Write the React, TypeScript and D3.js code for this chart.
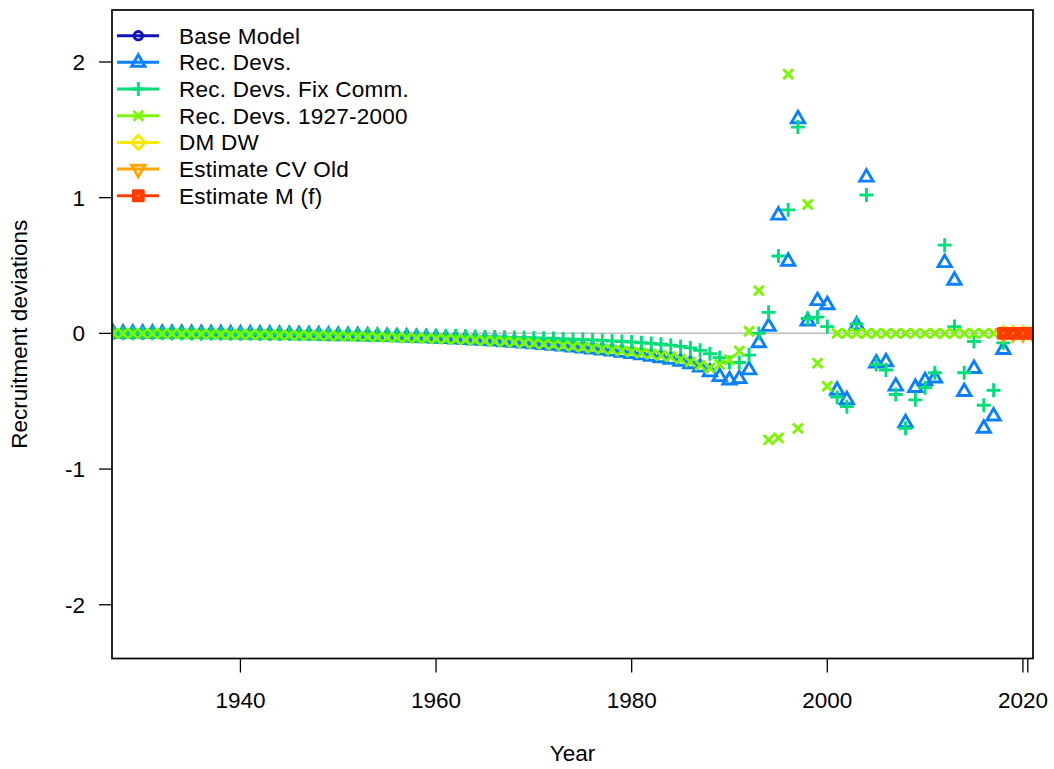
import React from "react";
import * as d3 from "d3";

// ---- data -------------------------------------------------------------
const seriesNames = [
  "Base Model",
  "Rec. Devs.",
  "Rec. Devs. Fix Comm.",
  "Rec. Devs. 1927-2000",
  "DM DW",
  "Estimate CV Old",
  "Estimate M (f)",
];
const seriesColors = ["#1212BC", "#0A80FF", "#00DE7A", "#7CF700", "#FFE600", "#FFA500", "#FF3D00"];
const seriesShapes = ["circle", "triangle", "plus", "cross", "diamond", "triangleDown", "square"];

// Main recruitment deviation years
const yearsRecDevs = d3.range(1927, 2019); // 1927..2018
const yearsRecDevs1927 = d3.range(1927, 2018); // 1927..2017
const yearsForecast = [2018, 2019, 2020, 2021];

const recDevs = [
  0.0, 0.0, 0.0, 0.0, 0.0, -0.001, -0.002, -0.002, -0.003, -0.003,
  -0.004, -0.004, -0.005, -0.006, -0.006, -0.007, -0.008, -0.009, -0.01, -0.011,
  -0.012, -0.013, -0.015, -0.016, -0.018, -0.019, -0.021, -0.023, -0.025, -0.027,
  -0.029, -0.032, -0.034, -0.037, -0.04, -0.043, -0.047, -0.05, -0.054, -0.058,
  -0.063, -0.067, -0.072, -0.078, -0.083, -0.089, -0.095, -0.102, -0.109, -0.116,
  -0.124, -0.132, -0.141, -0.15, -0.16, -0.17, -0.181, -0.193, -0.207, -0.225,
  -0.25, -0.285, -0.32, -0.345, -0.335, -0.27, -0.07, 0.05, 0.87, 0.53,
  1.58, 0.09, 0.24, 0.21, -0.42, -0.49, 0.06, 1.15, -0.22, -0.21,
  -0.39, -0.66, -0.4, -0.35, -0.33, 0.52, 0.39, -0.43, -0.26, -0.7,
  -0.61, -0.12,
];

const recDevsFixComm = [
  0.0, 0.0, 0.0, 0.0, 0.0, 0.0, -0.001, -0.001, -0.001, -0.002,
  -0.002, -0.002, -0.003, -0.003, -0.003, -0.004, -0.004, -0.005, -0.005, -0.006,
  -0.006, -0.007, -0.008, -0.008, -0.009, -0.01, -0.011, -0.012, -0.013, -0.014,
  -0.015, -0.016, -0.017, -0.018, -0.019, -0.02, -0.022, -0.023, -0.025, -0.026,
  -0.028, -0.03, -0.032, -0.034, -0.036, -0.038, -0.041, -0.043, -0.046, -0.049,
  -0.052, -0.056, -0.06, -0.064, -0.069, -0.074, -0.08, -0.087, -0.096, -0.107,
  -0.125, -0.15, -0.18, -0.215, -0.215, -0.16, 0.0, 0.155, 0.57, 0.91,
  1.52, 0.11, 0.12, 0.05, -0.47, -0.54, 0.07, 1.02, -0.23, -0.27,
  -0.45, -0.7, -0.49, -0.4, -0.29, 0.65, 0.05, -0.29, -0.06, -0.53,
  -0.42, -0.07,
];

const recDevs1927to2000 = [
  0.0, -0.001, -0.001, -0.002, -0.002, -0.003, -0.003, -0.004, -0.005, -0.005,
  -0.006, -0.007, -0.008, -0.008, -0.009, -0.01, -0.011, -0.012, -0.013, -0.014,
  -0.015, -0.016, -0.018, -0.019, -0.021, -0.022, -0.024, -0.026, -0.028, -0.03,
  -0.032, -0.034, -0.037, -0.039, -0.042, -0.045, -0.048, -0.051, -0.055, -0.058,
  -0.062, -0.066, -0.07, -0.075, -0.08, -0.085, -0.09, -0.096, -0.102, -0.108,
  -0.115, -0.122, -0.129, -0.137, -0.145, -0.154, -0.163, -0.173, -0.19, -0.21,
  -0.235, -0.255, -0.23, -0.195, -0.13, 0.015, 0.315, -0.785, -0.77, 1.91,
  -0.7, 0.95, -0.22, -0.39, 0, 0, 0, 0, 0, 0,
  0, 0, 0, 0, 0, 0, 0, 0, 0, 0,
  0,
];

const forecastBase = [0, 0, 0, 0];
const forecastDMDW = [0, 0, 0, 0];
const forecastCVOld = [0, 0, 0, 0];
const forecastM = [0, 0, 0, 0];

const seriesYears = [yearsForecast, yearsRecDevs, yearsRecDevs, yearsRecDevs1927, yearsForecast, yearsForecast, yearsForecast];
const seriesValues = [forecastBase, recDevs, recDevsFixComm, recDevs1927to2000, forecastDMDW, forecastCVOld, forecastM];

const xTicks = [1940, 1960, 1980, 2000, 2020];
const xMinorEnd = [2020.5];
const yTicks = [-2, -1, 0, 1, 2];

// ---- layout -----------------------------------------------------------
const W = 1054;
const H = 769;
const plotL = 112;
const plotR = 1033;
const plotT = 10;
const plotB = 658.5;
const FONT = "'Liberation Sans', Arial, Helvetica, sans-serif";
const FS = 22.5;

const x = d3.scaleLinear().domain([1926.87, 2021.03]).range([plotL, plotR]);
const y = d3.scaleLinear().domain([-2.396, 2.383]).range([plotB, plotT]);

const SW = 2.9;
const R0 = 4.94;

function Glyph({ shape, cx, cy, color }: { shape: string; cx: number; cy: number; color: string }) {
  const common = { fill: "none", stroke: color, strokeWidth: SW, strokeLinejoin: "miter" as const };
  switch (shape) {
    case "circle":
      return <circle cx={cx} cy={cy} r={4.2} {...common} />;
    case "triangle":
    case "triangleDown": {
      const r = 1.5551 * R0;
      const xc = 1.3468 * R0;
      const yc = 0.7776 * R0;
      const s = shape === "triangle" ? 1 : -1;
      const d = `M${cx},${cy - s * r}L${cx + xc},${cy + s * yc}L${cx - xc},${cy + s * yc}Z`;
      return <path d={d} {...common} />;
    }
    case "plus": {
      const a = 1.4142 * R0;
      return <path d={`M${cx - a},${cy}H${cx + a}M${cx},${cy - a}V${cy + a}`} {...common} />;
    }
    case "cross": {
      const a = R0;
      return (
        <path d={`M${cx - a},${cy - a}L${cx + a},${cy + a}M${cx - a},${cy + a}L${cx + a},${cy - a}`} {...common} />
      );
    }
    case "diamond": {
      const a = 1.4142 * R0;
      return <path d={`M${cx},${cy - a}L${cx + a},${cy}L${cx},${cy + a}L${cx - a},${cy}Z`} {...common} />;
    }
    case "square": {
      const a = R0;
      return (
        <g>
          <rect x={cx - a} y={cy - a} width={2 * a} height={2 * a} fill={color} stroke={color} strokeWidth={3} strokeLinejoin="round" />
          <circle cx={cx} cy={cy} r={1.1} fill="#FF9A30" />
        </g>
      );
    }
    default:
      return null;
  }
}

export default function App() {
  const legendRow0 = 35.7;
  const legendStep = 26.67;
  return (
    <svg
      width={W}
      height={H}
      viewBox={`0 0 ${W} ${H}`}
      style={{ position: "absolute", left: 0, top: 0, background: "#fff" }}
      fontFamily={FONT}
    >
      <defs>
        <clipPath id="plotClip">
          <rect x={plotL} y={plotT} width={plotR - plotL} height={plotB - plotT} />
        </clipPath>
      </defs>
      <rect x={0} y={0} width={W} height={H} fill="#fff" />

      {/* zero reference line */}
      <line x1={plotL} x2={plotR} y1={y(0)} y2={y(0)} stroke="#BEBEBE" strokeWidth={1.5} />

      {/* points */}
      <g clipPath="url(#plotClip)">
        {seriesValues.map((vals, si) => (
          <g key={si}>
            {vals.map((v, i) => (
              <Glyph key={i} shape={seriesShapes[si]} cx={x(seriesYears[si][i])} cy={y(v)} color={seriesColors[si]} />
            ))}
          </g>
        ))}
      </g>

      {/* frame */}
      <rect x={plotL} y={plotT} width={plotR - plotL} height={plotB - plotT} fill="none" stroke="#000" strokeWidth={1.7} />

      {/* x axis */}
      {xTicks.map((t) => (
        <g key={t}>
          <line x1={x(t)} x2={x(t)} y1={plotB} y2={plotB + 14} stroke="#000" strokeWidth={1.3} />
          <text x={x(t)} y={707.5} fontSize={FS} textAnchor="middle" fill="#000">
            {t}
          </text>
        </g>
      ))}
      {xMinorEnd.map((t) => (
        <line key={t} x1={x(t)} x2={x(t)} y1={plotB} y2={plotB + 14} stroke="#000" strokeWidth={1.3} />
      ))}
      <text x={(plotL + plotR) / 2} y={761} fontSize={FS} textAnchor="middle" fill="#000">
        Year
      </text>

      {/* y axis */}
      {yTicks.map((t) => (
        <g key={t}>
          <line x1={plotL - 13} x2={plotL} y1={y(t)} y2={y(t)} stroke="#000" strokeWidth={1.3} />
          <text x={85} y={y(t) + 8} fontSize={FS} textAnchor="end" fill="#000">
            {t}
          </text>
        </g>
      ))}
      <text
        transform={`translate(27, ${(plotT + plotB) / 2}) rotate(-90)`}
        fontSize={FS}
        textAnchor="middle"
        fill="#000"
      >
        Recruitment deviations
      </text>

      {/* legend */}
      {seriesNames.map((name, i) => {
        const ly = legendRow0 + i * legendStep;
        return (
          <g key={name}>
            <line x1={117} x2={159} y1={ly} y2={ly} stroke={seriesColors[i]} strokeWidth={3} />
            <Glyph shape={seriesShapes[i]} cx={138.3} cy={ly} color={seriesColors[i]} />
            <text x={179} y={ly + 8} fontSize={FS} fill="#000" letterSpacing={0.25}>
              {name}
            </text>
          </g>
        );
      })}
    </svg>
  );
}
